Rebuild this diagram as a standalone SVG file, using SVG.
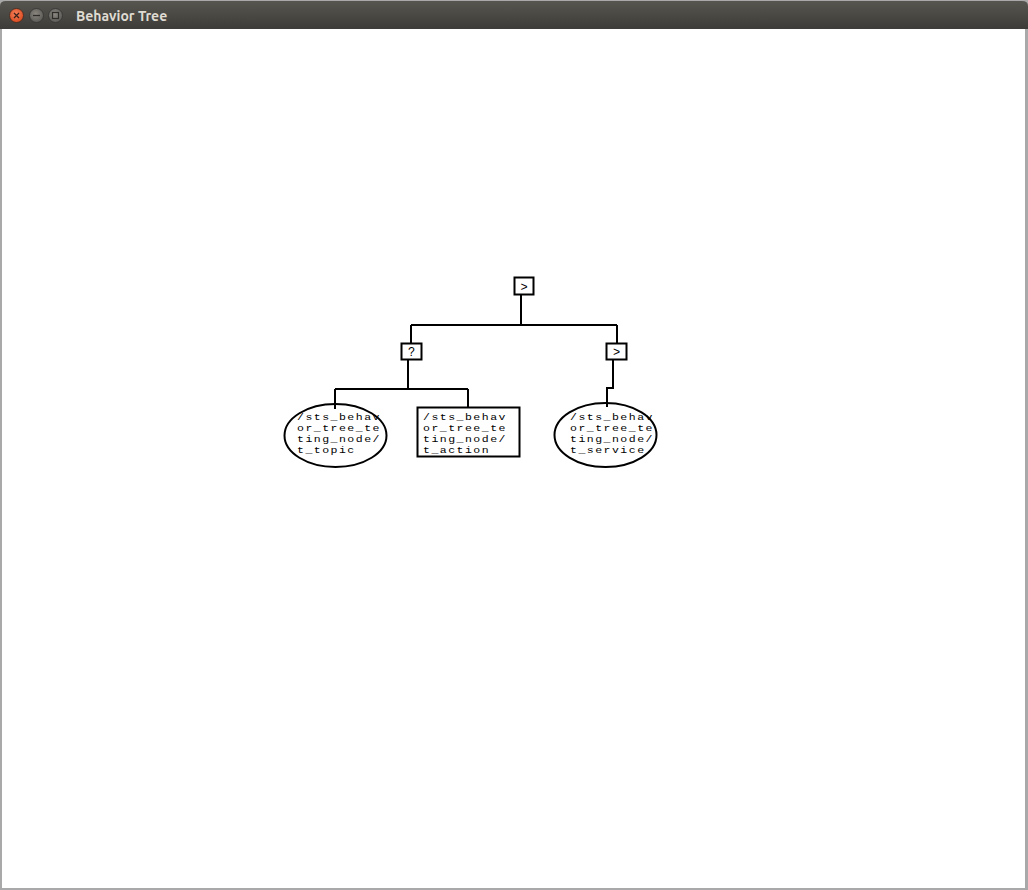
<svg xmlns="http://www.w3.org/2000/svg" width="1028" height="890" viewBox="0 0 1028 890">
  <defs>
    <linearGradient id="tb" x1="0" y1="0" x2="0" y2="1">
      <stop offset="0" stop-color="#57554f"/>
      <stop offset="1" stop-color="#3d3c38"/>
    </linearGradient>
    <radialGradient id="closeG" cx="0.45" cy="0.4" r="0.6">
      <stop offset="0" stop-color="#f7845c"/>
      <stop offset="1" stop-color="#d9491f"/>
    </radialGradient>
    <radialGradient id="btnG" cx="0.45" cy="0.4" r="0.6">
      <stop offset="0" stop-color="#8a8780"/>
      <stop offset="1" stop-color="#5c5a55"/>
    </radialGradient>
  </defs>
  <style>
    .ln { stroke: #000; stroke-width: 2; fill: none; }
    .nd { stroke: #000; stroke-width: 2; fill: #fff; }
    .lbl { font-family: "Liberation Mono", "DejaVu Sans Mono", monospace; font-size: 9.6px; letter-spacing: 1.24px; fill: #000; }
    .sym { font-family: "Liberation Mono", "DejaVu Sans Mono", monospace; font-size: 12px; fill: #000; text-anchor: middle; }
  </style>

  <!-- window frame -->
  <rect x="0" y="0" width="1028" height="890" fill="#a9a9a9"/>
  <rect x="2" y="29" width="1023" height="859" fill="#ffffff"/>
  <path d="M0,29 L0,6 Q0,1 6,1 L1022,1 Q1028,1 1028,6 L1028,29 Z" fill="url(#tb)"/>
  <g id="window-buttons">
    <circle cx="16.5" cy="15.5" r="7" fill="url(#closeG)" stroke="#3a2a22" stroke-width="0.8"/>
    <path d="M14,13 L19,18 M19,13 L14,18" stroke="#3b2119" stroke-width="1.3"/>
    <circle cx="36.5" cy="15.5" r="7" fill="url(#btnG)" stroke="#333" stroke-width="0.8"/>
    <path d="M33,15.5 L40,15.5" stroke="#2e2d2a" stroke-width="1.3"/>
    <circle cx="55.5" cy="15.5" r="7" fill="url(#btnG)" stroke="#333" stroke-width="0.8"/>
    <rect x="52.5" y="12.5" width="6" height="6" fill="none" stroke="#2e2d2a" stroke-width="1.2"/>
  </g>
  <text x="76" y="21" font-family="Ubuntu, 'Open Sans', 'DejaVu Sans', sans-serif" font-weight="bold" font-size="14" fill="#dfdbd2">Behavior Tree</text>

  <!-- connectors -->
  <g id="connectors">
    <path class="ln" d="M521,295 L521,325"/>
    <path class="ln" d="M411,325 L617,325"/>
    <path class="ln" d="M411,325 L411,343"/>
    <path class="ln" d="M617,325 L617,343"/>
    <path class="ln" d="M408,360 L408,389"/>
    <path class="ln" d="M335,389 L468,389"/>
    <path class="ln" d="M335,389 L335,409"/>
    <path class="ln" d="M468,389 L468,407"/>
    <path class="ln" d="M613,360 L613,388 L607,388 L607,407"/>
  </g>

  <!-- nodes -->
  <g id="root-sequence">
    <rect class="nd" x="514.5" y="277.5" width="19" height="17"/>
    <text class="sym" x="524" y="291">&gt;</text>
  </g>
  <g id="fallback">
    <rect class="nd" x="401.5" y="343.5" width="20" height="16"/>
    <text class="sym" x="411.5" y="356">?</text>
  </g>
  <g id="sequence-right">
    <rect class="nd" x="606.5" y="343.5" width="20" height="16"/>
    <text class="sym" x="616.5" y="356">&gt;</text>
  </g>
  <g id="topic-condition">
    <ellipse class="nd" cx="335.5" cy="435.5" rx="51" ry="31.5"/>
    <path class="ln" d="M335,404 L335,409"/>
    <g transform="translate(297,0) scale(1.2,1)">
      <text class="lbl" x="0" y="420.5">/sts_behav</text>
      <text class="lbl" x="0" y="431.5">or_tree_te</text>
      <text class="lbl" x="0" y="442.5">ting_node/</text>
      <text class="lbl" x="0" y="453.5">t_topic</text>
    </g>
  </g>
  <g id="action">
    <rect class="nd" x="417.5" y="407.5" width="102" height="49"/>
    <g transform="translate(423,0) scale(1.2,1)">
      <text class="lbl" x="0" y="420.5">/sts_behav</text>
      <text class="lbl" x="0" y="431.5">or_tree_te</text>
      <text class="lbl" x="0" y="442.5">ting_node/</text>
      <text class="lbl" x="0" y="453.5">t_action</text>
    </g>
  </g>
  <g id="service-condition">
    <ellipse class="nd" cx="605.5" cy="435" rx="51" ry="32"/>
    <path class="ln" d="M607,403 L607,407"/>
    <g transform="translate(570,0) scale(1.2,1)">
      <text class="lbl" x="0" y="420.5">/sts_behav</text>
      <text class="lbl" x="0" y="431.5">or_tree_te</text>
      <text class="lbl" x="0" y="442.5">ting_node/</text>
      <text class="lbl" x="0" y="453.5">t_service</text>
    </g>
  </g>
</svg>
